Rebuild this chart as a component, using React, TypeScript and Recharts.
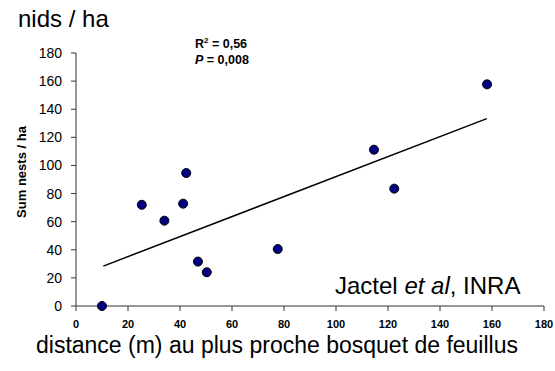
import React from 'react';
import {
  ScatterChart,
  Scatter,
  XAxis,
  YAxis,
  ReferenceLine,
  Customized,
} from 'recharts';

// distance (m) to nearest broadleaf grove vs. nests per hectare
const distances = [10, 25.3, 34, 41.2, 42.4, 46.9, 50.3, 77.6, 114.6, 122.4, 158.1];
const nests = [0, 72, 60.7, 72.8, 94.6, 31.6, 24, 40.5, 111.2, 83.5, 157.7];

// fitted trend line end points
const trendX = [10.5, 158];
const trendY = [28.4, 133.3];

const xTicks = [0, 20, 40, 60, 80, 100, 120, 140, 160, 180];
const yTicks = [0, 20, 40, 60, 80, 100, 120, 140, 160, 180];

const points = distances.map((d, i) => ({ x: d, y: nests[i] }));
const trend = trendX.map((x, i) => ({ x, y: trendY[i] }));

const font = '"Liberation Sans", Arial, sans-serif';

const Dot = (props: any) => (
  <circle cx={props.cx} cy={props.cy} r={4.5} fill="#000080" stroke="#000" strokeWidth={1} />
);

const Texts = () => (
  <g fontFamily={font} fill="#000">
    <text x={18} y={27} fontSize={24}>nids / ha</text>
    <text x={195} y={48} fontSize={12.5} fontWeight="bold">
      R<tspan fontSize={8} dy={-5}>2</tspan>
      <tspan dy={5}> = 0,56</tspan>
    </text>
    <text x={195} y={64} fontSize={12.5} fontWeight="bold">
      <tspan fontStyle="italic">P</tspan> = 0,008
    </text>
    <text x={335} y={294} fontSize={24}>
      Jactel <tspan fontStyle="italic">et al</tspan>, INRA
    </text>
    <text x={277} y={353} fontSize={23} textAnchor="middle">
      distance (m) au plus proche bosquet de feuillus
    </text>
    <text
      x={21}
      y={172}
      fontSize={13}
      fontWeight="bold"
      textAnchor="middle"
      dominantBaseline="central"
      transform="rotate(-90 21 172)"
    >
      Sum nests / ha
    </text>
  </g>
);

export default function App() {
  return (
    <div style={{ position: 'absolute', left: 0, top: 0, background: '#fff' }}>
      <ScatterChart
        width={555}
        height={371}
        margin={{ top: 53, right: 11, bottom: 35, left: 0 }}
      >
        <XAxis
          type="number"
          dataKey="x"
          domain={[0, 180]}
          ticks={xTicks}
          axisLine={{ stroke: '#333' }}
          tickLine={{ stroke: '#333' }}
          tickSize={5}
          tickMargin={9}
          height={30}
          tick={{ fontSize: 11, fontWeight: 'bold', fill: '#000', fontFamily: font }}
          interval={0}
        />
        <YAxis
          type="number"
          dataKey="y"
          domain={[0, 180]}
          ticks={yTicks}
          width={76}
          axisLine={{ stroke: '#333' }}
          tickLine={{ stroke: '#333' }}
          tickSize={5}
          tickMargin={9}
          tick={{ fontSize: 14, fill: '#000', fontFamily: font }}
          interval={0}
        />
        <ReferenceLine
          segment={trend}
          stroke="#000"
          strokeWidth={1.5}
          ifOverflow="extendDomain"
        />
        <Scatter data={points} shape={<Dot />} isAnimationActive={false} />
        <Customized component={Texts} />
      </ScatterChart>
    </div>
  );
}
